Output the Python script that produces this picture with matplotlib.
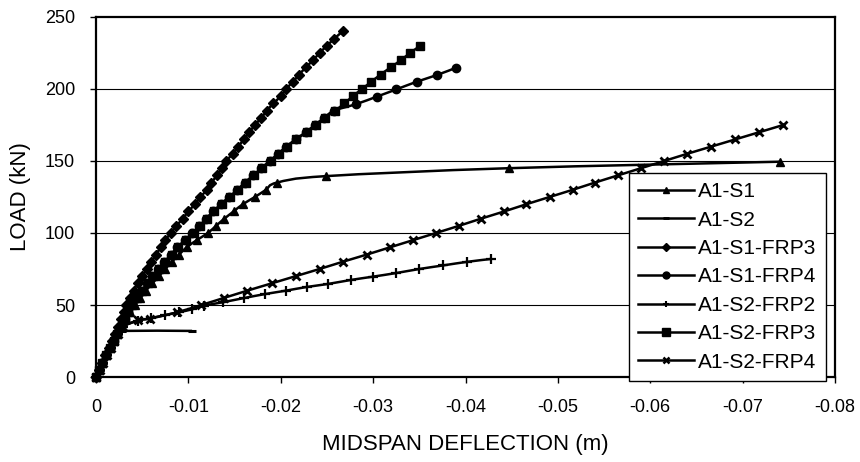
import matplotlib
matplotlib.use("Agg")
import matplotlib.pyplot as plt
from matplotlib.path import Path
from matplotlib.patches import PathPatch
from matplotlib.lines import Line2D
import numpy as np

plt.rcParams['font.family'] = ['Liberation Sans', 'DejaVu Sans']
plt.rcParams['axes.unicode_minus'] = False

# ---------------- data ----------------
s1_x = [0, -0.0003, -0.0007, -0.0011, -0.0015, -0.0019, -0.0023, -0.0027, -0.0032, -0.0037,
        -0.0042, -0.0048, -0.0054, -0.0061, -0.0068, -0.0075, -0.0082, -0.0090, -0.0098,
        -0.0109, -0.0121, -0.0130, -0.0139, -0.0149, -0.0159, -0.0172, -0.0184, -0.0196,
        -0.0249, -0.0447, -0.0740]
s1_y = [0, 5, 10, 15, 20, 25, 30, 35, 40, 45, 50, 55, 60, 65, 70, 75, 80, 85, 90,
        95, 100, 105, 110, 115, 120, 125, 130, 135, 139.5, 145, 149.5]

s2_x = [0, -0.0004, -0.0008, -0.0012, -0.0016, -0.0020, -0.0024, -0.0028, -0.0104]
s2_y = [0, 5, 10, 15, 20, 25, 30, 32, 32]

s1f3_x = [0, -0.0003, -0.0007, -0.0010, -0.0014, -0.0017, -0.0021, -0.0024, -0.0027, -0.0030,
          -0.0033, -0.0037, -0.0041, -0.0045, -0.0050, -0.0055, -0.0060, -0.0065, -0.0070,
          -0.0075, -0.0081, -0.0087, -0.0094, -0.0100, -0.0107, -0.0113, -0.0120, -0.0125,
          -0.0131, -0.0136, -0.0141, -0.0148, -0.0154, -0.0160, -0.0166, -0.0172, -0.0179,
          -0.0185, -0.0192, -0.0200, -0.0206, -0.0213, -0.0220, -0.0227, -0.0235, -0.0242,
          -0.0250, -0.0258, -0.0267]
s1f3_y = [0, 5, 10, 15, 20, 25, 30, 35, 40, 45, 50, 55, 60, 65, 70, 75, 80, 85, 90, 95,
          100, 105, 110, 115, 120, 125, 130, 135, 140, 145, 150, 155, 160, 165, 170, 175,
          180, 185, 190, 195, 200, 205, 210, 215, 220, 225, 230, 235, 240]

s1f4_x = [0, -0.0003, -0.0007, -0.0011, -0.0015, -0.0019, -0.0023, -0.0027, -0.0031, -0.0035,
          -0.0039, -0.0044, -0.0050, -0.0055, -0.0061, -0.0067, -0.0074, -0.0081, -0.0088,
          -0.0096, -0.0104, -0.0112, -0.0119, -0.0127, -0.0135, -0.0144, -0.0153, -0.0161,
          -0.0170, -0.0179, -0.0188, -0.0197, -0.0206, -0.0216, -0.0227, -0.0237, -0.0247,
          -0.0258, -0.0282, -0.0304, -0.0325, -0.0347, -0.0369, -0.0390]
s1f4_y = [0, 5, 10, 15, 20, 25, 30, 35, 40, 45, 50, 55, 60, 65, 70, 75, 80, 85, 90, 95,
          100, 105, 110, 115, 120, 125, 130, 135, 140, 145, 150, 155, 160, 165, 170, 175,
          180, 185, 189.6, 194.7, 199.7, 205, 209.7, 214.8]

s2f2_x = [0, -0.0004, -0.0008, -0.0012, -0.0016, -0.0020, -0.0024, -0.0029, -0.0045, -0.0060,
          -0.0075, -0.0090, -0.0104, -0.0117, -0.0138, -0.0160, -0.0183, -0.0206, -0.0228,
          -0.0251, -0.0276, -0.0300, -0.0325, -0.0350, -0.0376, -0.0402, -0.0428]
s2f2_y = [0, 5, 10, 15, 20, 25, 30, 35, 39, 41, 43, 45, 47, 49.5, 52, 54.8, 57.6, 60,
          62.5, 64.6, 67.4, 69.7, 72.2, 75, 77.5, 80, 82]

s2f3_x = [0, -0.0003, -0.0007, -0.0011, -0.0015, -0.0019, -0.0023, -0.0027, -0.0031, -0.0035,
          -0.0039, -0.0044, -0.0050, -0.0056, -0.0062, -0.0068, -0.0075, -0.0082, -0.0089,
          -0.0097, -0.0106, -0.0113, -0.0120, -0.0128, -0.0136, -0.0145, -0.0154, -0.0162,
          -0.0171, -0.0180, -0.0189, -0.0198, -0.0207, -0.0217, -0.0228, -0.0238, -0.0248,
          -0.0259, -0.0269, -0.0278, -0.0288, -0.0298, -0.0308, -0.0319, -0.0330, -0.0340,
          -0.0351]
s2f3_y = [0, 5, 10, 15, 20, 25, 30, 35, 40, 45, 50, 55, 60, 65, 70, 75, 80, 85, 90, 95,
          100, 105, 110, 115, 120, 125, 130, 135, 140, 145, 150, 155, 160, 165, 170, 175,
          180, 185, 190, 195, 200, 205, 210, 215, 220, 225, 230]

s2f4_x = [0, -0.0004, -0.0008, -0.0012, -0.0016, -0.0020, -0.0024, -0.0029, -0.0046, -0.0058,
          -0.0088, -0.0114, -0.0139, -0.0164, -0.0190, -0.0216, -0.0242, -0.0267, -0.0293,
          -0.0318, -0.0343, -0.0368, -0.0393, -0.0417, -0.0442, -0.0466, -0.0491, -0.0516,
          -0.0540, -0.0565, -0.0590, -0.0615, -0.0640, -0.0666, -0.0692, -0.0718, -0.0744]
s2f4_y = [0, 5, 10, 15, 20, 25, 30, 35, 39.5, 40.5, 45, 50, 55, 60, 65, 70, 75, 80, 85,
          90, 95, 100, 105, 110, 115, 120, 125, 130, 135, 140, 145, 150, 155, 160, 165,
          170, 175]

labels = ['A1-S1', 'A1-S2', 'A1-S1-FRP3', 'A1-S1-FRP4', 'A1-S2-FRP2', 'A1-S2-FRP3', 'A1-S2-FRP4']
xticks = [0, -0.01, -0.02, -0.03, -0.04, -0.05, -0.06, -0.07, -0.08]
xticklabels = ['0', '-0.01', '-0.02', '-0.03', '-0.04', '-0.05', '-0.06', '-0.07', '-0.08']
yticks = [0, 50, 100, 150, 200, 250]

series = [(s1_x, s1_y), (s2_x, s2_y), (s1f3_x, s1f3_y), (s1f4_x, s1f4_y),
          (s2f2_x, s2f2_y), (s2f3_x, s2f3_y), (s2f4_x, s2f4_y)]
styles = [dict(marker='^', ms=6, mew=1),
          dict(marker='_', ms=6, mew=2.2),
          dict(marker='D', ms=5.5, mew=1),
          dict(marker='o', ms=6, mew=1),
          dict(marker='+', ms=7, mew=1.6),
          dict(marker='s', ms=6, mew=1),
          dict(marker='x', ms=6, mew=2)]
leg_styles = [dict(marker='^', ms=4.5, mew=1),
              dict(marker='_', ms=4.5, mew=2),
              dict(marker='D', ms=4, mew=1),
              dict(marker='o', ms=5, mew=1),
              dict(marker='+', ms=5, mew=1.5),
              dict(marker='s', ms=5.5, mew=1),
              dict(marker='x', ms=4.5, mew=1.8)]

LW = 1.8


def smooth_path(x, y):
    # Catmull-Rom style smoothed line (like a spreadsheet "smoothed line")
    P = np.column_stack([x, y]).astype(float)
    n = len(P)
    verts = [P[0]]
    codes = [Path.MOVETO]
    for i in range(n - 1):
        p0 = P[i - 1] if i > 0 else P[i]
        p1 = P[i]
        p2 = P[i + 1]
        p3 = P[i + 2] if i + 2 < n else P[i + 1]
        c1 = p1 + (p2 - p0) / 6.0
        c2 = p2 - (p3 - p1) / 6.0
        verts += [c1, c2, p2]
        codes += [Path.CURVE4] * 3
    return Path(verts, codes)


fig = plt.figure(figsize=(8.6, 4.62), dpi=100)
ax = fig.add_axes([96 / 860, 1 - 377 / 462, (835 - 96) / 860, (377 - 17) / 462])

for yv in yticks[1:-1]:
    ax.axhline(yv, color='black', lw=0.8, zorder=1)

handles = []
for (x, y), st, lst, lab in zip(series, styles, leg_styles, labels):
    patch = PathPatch(smooth_path(x, y), facecolor='none', edgecolor='black', lw=LW,
                      zorder=3, clip_on=False)
    ax.add_patch(patch)
    ax.plot(x, y, linestyle='none', color='black', mfc='black', mec='black',
            zorder=4, clip_on=False, **st)
    handles.append(Line2D([], [], color='black', lw=LW, mfc='black', mec='black', **lst))

ax.set_xlim(0, -0.08)
ax.set_ylim(0, 250)
ax.set_xticks(xticks)
ax.set_xticklabels(xticklabels)
ax.set_yticks(yticks)
ax.tick_params(axis='both', direction='out', length=4, width=1, labelsize=13,
               colors='black')
ax.tick_params(axis='x', pad=12)
ax.tick_params(axis='y', pad=11)
for sp in ax.spines.values():
    sp.set_linewidth(1.6)
    sp.set_color('black')

ax.set_xlabel('MIDSPAN DEFLECTION (m)', fontsize=16, labelpad=13)
ax.set_ylabel('LOAD (kN)', fontsize=16, labelpad=10)

leg = ax.legend(handles, labels, loc='upper left',
                bbox_to_anchor=(629 / 860, 1 - 173 / 462), bbox_transform=fig.transFigure,
                fontsize=15, frameon=True, fancybox=False, framealpha=1,
                edgecolor='black', handlelength=2.65, handletextpad=0.2,
                labelspacing=0.45, borderpad=0.45, borderaxespad=0)
leg.get_frame().set_linewidth(1.0)
leg.set_zorder(10)

fig.savefig('out.png', dpi=100)
